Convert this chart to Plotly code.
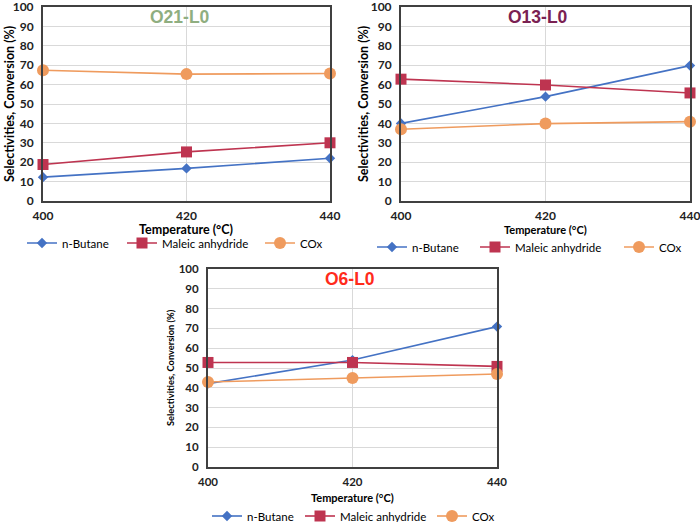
import plotly.graph_objects as go

temps = [400, 420, 440]
series_names = ["n-Butane", "Maleic anhydride", "COx"]

# O21-L0
o21_butane = [12.3, 16.8, 22.0]
o21_ma = [18.8, 25.3, 30.0]
o21_cox = [67.4, 65.4, 65.7]
# O13-L0
o13_butane = [40.0, 53.8, 69.8]
o13_ma = [62.8, 59.8, 55.7]
o13_cox = [37.0, 39.9, 40.9]
# O6-L0
o6_butane = [42.1, 54.0, 70.9]
o6_ma = [52.8, 52.8, 50.8]
o6_cox = [42.9, 45.0, 47.0]

panel_titles = ["O21-L0", "O13-L0", "O6-L0"]
title_colors = ["#8FAE80", "#7A2152", "#FF2B1B"]

colors = ["#4472C4", "#BE3450", "#EF9B5E"]
symbols = ["diamond", "square", "circle"]
msizes = [8, 11, 12]

W, H = 700, 522
FONT = "Lato"

# panel geometry in pixels (left, right, top, bottom)
panels = [
    dict(l=43, r=330, t=7, b=201, tick=12, ytitle=12.5, xtitle=12.5, leg=11.5,
         ytx=9, xty=230, legy=243, legx=[40, 140, 278], tx=180, ty=17, tsize=17.5),
    dict(l=401, r=690, t=7, b=201, tick=12, ytitle=12.5, xtitle=11, leg=11.5,
         ytx=363, xty=230, legy=247, legx=[390, 493, 637], tx=538, ty=17, tsize=17.5),
    dict(l=208, r=497, t=269, b=467, tick=11.5, ytitle=9.3, xtitle=11, leg=11.5,
         ytx=170, xty=497, legy=516, legx=[225, 318, 450], tx=350, ty=279, tsize=17.5),
]

data = [
    [o21_butane, o21_ma, o21_cox],
    [o13_butane, o13_ma, o13_cox],
    [o6_butane, o6_ma, o6_cox],
]

fig = go.Figure()
annotations = []
layout = {}
leg_idx = 0
for p, (pan, vals) in enumerate(zip(panels, data)):
    ax = "" if p == 0 else str(p + 1)
    for s in range(3):
        leg_idx += 1
        lname = "legend" if leg_idx == 1 else f"legend{leg_idx}"
        fig.add_trace(go.Scatter(
            x=temps, y=vals[s], name=series_names[s], mode="lines+markers",
            line=dict(color=colors[s], width=1.6),
            marker=dict(symbol=symbols[s], size=msizes[s], color=colors[s]),
            xaxis="x" + ax, yaxis="y" + ax, cliponaxis=False,
            legend=lname, showlegend=True,
        ))
        layout[lname] = dict(
            x=(pan["legx"][s] - 18) / W, y=1 - pan["legy"] / H,
            xanchor="left", yanchor="middle", orientation="h",
            bgcolor="rgba(0,0,0,0)", borderwidth=0,
            font=dict(family=FONT, size=pan["leg"], color="#000000"),
            itemwidth=30,
        )
    common = dict(
        automargin=False, ticklabeloverflow="allow", showgrid=True,
        gridcolor="#D9D9D9", gridwidth=1, showline=True, mirror=True,
        linecolor="#404040", linewidth=2, ticks="outside",
        tickcolor="rgba(0,0,0,0)", zeroline=False,
        tickfont=dict(family=FONT, size=pan["tick"], color="#222222", weight="bold"),
    )
    layout["xaxis" + ax] = dict(
        domain=[pan["l"] / W, pan["r"] / W], anchor="y" + ax,
        range=[400, 440], tickvals=temps, ticklen=3, **common,
    )
    layout["yaxis" + ax] = dict(
        domain=[1 - pan["b"] / H, 1 - pan["t"] / H], anchor="x" + ax,
        range=[0, 100], dtick=10, ticklen=5, **common,
    )
    annotations.append(dict(
        text="<b>Selectivities, Conversion (%)</b>", textangle=-90,
        x=pan["ytx"] / W, y=1 - (pan["t"] + pan["b"]) / 2 / H,
        xref="paper", yref="paper", showarrow=False, xanchor="center", yanchor="middle",
        font=dict(family=FONT, size=pan["ytitle"], color="#000000"),
    ))
    annotations.append(dict(
        text="<b>Temperature (°C)</b>",
        x=(pan["l"] + pan["r"]) / 2 / W, y=1 - pan["xty"] / H,
        xref="paper", yref="paper", showarrow=False, xanchor="center", yanchor="middle",
        font=dict(family=FONT, size=pan["xtitle"], color="#000000"),
    ))
    annotations.append(dict(
        text="<b>" + panel_titles[p] + "</b>",
        x=pan["tx"] / W, y=1 - pan["ty"] / H,
        xref="paper", yref="paper", showarrow=False, xanchor="center", yanchor="middle",
        font=dict(family="Liberation Sans", size=pan["tsize"], color=title_colors[p]),
    ))

fig.update_layout(
    width=W, height=H, margin=dict(l=0, r=0, t=0, b=0, autoexpand=False),
    paper_bgcolor="white", plot_bgcolor="white",
    annotations=annotations, **layout,
)
fig.write_html("out.html")
